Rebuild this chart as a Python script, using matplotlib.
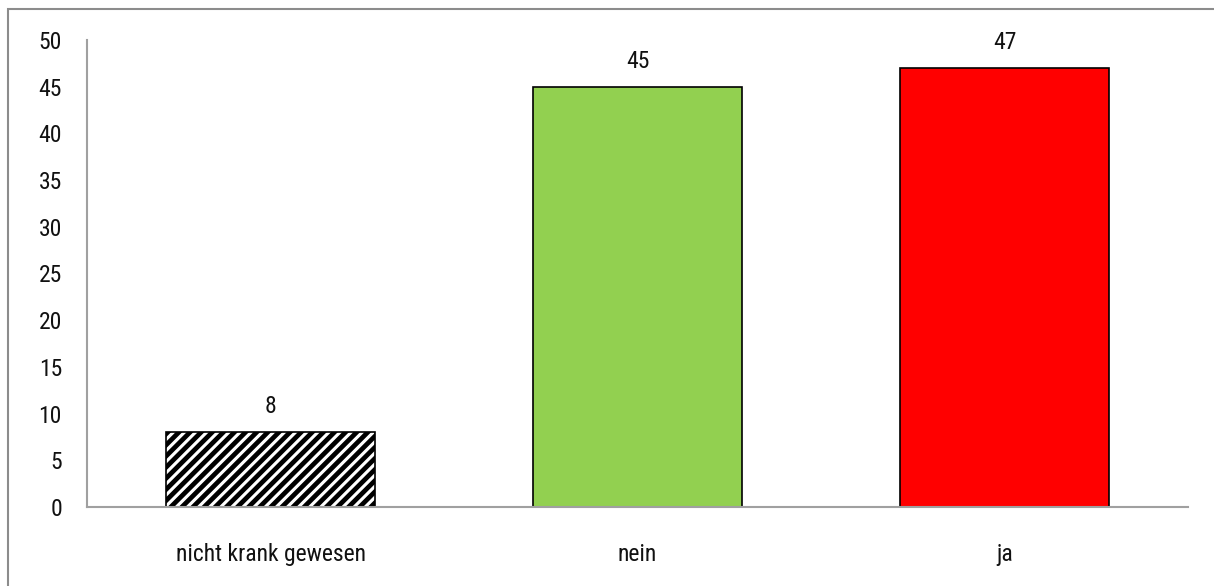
import matplotlib
matplotlib.use("Agg")
import matplotlib.pyplot as plt
from matplotlib.patches import Rectangle
from matplotlib import font_manager

categories = ["nicht krank gewesen", "nein", "ja"]
values = [8, 45, 47]
colors = ["white", "#92D050", "#FF0000"]
hatches = ["///", None, None]
yticks = [0, 5, 10, 15, 20, 25, 30, 35, 40, 45, 50]

names = {f.name for f in font_manager.fontManager.ttflist}
fam = ["Liberation Sans Narrow", "Roboto Condensed", "Archivo Narrow", "DejaVu Sans"]
plt.rcParams["font.family"] = [f for f in fam if f in names] or ["DejaVu Sans"]
plt.rcParams["hatch.linewidth"] = 3.4
plt.rcParams["hatch.color"] = "black"

FS = 17
fig = plt.figure(figsize=(12.14, 5.86), dpi=100)
W, H = 1214, 586
ax = fig.add_axes([87 / W, 1 - 507 / H, (1188 - 87) / W, (507 - 40) / H])

x = list(range(len(categories)))
for i in x:
    ax.bar(i, values[i], width=0.572, color=colors[i], edgecolor="black",
           linewidth=1.2, hatch=hatches[i], zorder=2)
    ax.text(i, values[i] + 1.5, str(values[i]), ha="center", va="bottom",
            fontsize=FS, color="#111111")

ax.set_xlim(-0.5, 2.5)
ax.set_ylim(0, 50)
ax.set_yticks(yticks)
ax.set_yticklabels([str(t) for t in yticks], fontsize=FS, color="#111111")
ax.set_xticks(x)
ax.set_xticklabels(categories, fontsize=FS, color="#111111")
ax.tick_params(axis="both", length=0)
ax.tick_params(axis="y", pad=18)
ax.tick_params(axis="x", pad=26)
for s in ["top", "right"]:
    ax.spines[s].set_visible(False)
for s in ["left", "bottom"]:
    ax.spines[s].set_color("#a0a0a0")
    ax.spines[s].set_linewidth(1.5)

fig.patches.append(Rectangle((8 / W, -0.1), 1.2, 1 - 9 / H + 0.1,
                             transform=fig.transFigure, fill=False,
                             edgecolor="#8c8c8c", linewidth=1.5))

fig.savefig("out.png", dpi=100)
